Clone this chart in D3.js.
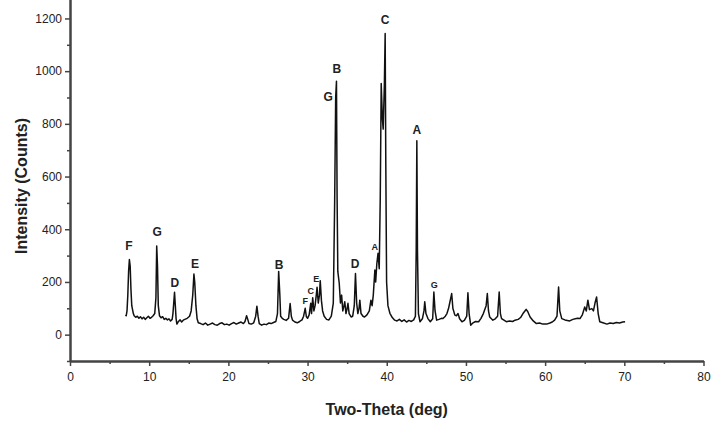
<!DOCTYPE html>
<html>
<head>
<meta charset="utf-8">
<title>XRD pattern</title>
<style>
  body { margin: 0; background: #fff; }
  svg { display: block; font-family: "Liberation Sans", Arial, sans-serif; }
  .axis path, .axis line { stroke: #444; }
  .axis text { fill: #222; font-size: 12px; }
</style>
</head>
<body>
<svg width="716" height="427"></svg>
<script src="https://d3js.org/d3.v7.min.js"></script>
<script>
// x-ray pattern: [two-theta, counts]
var pattern = [
  [7.0,75],[7.1,72],[7.2,90],[7.3,150],[7.4,240],[7.5,285],[7.6,260],[7.7,170],[7.8,110],[7.9,95],
  [8.0,80],[8.1,72],[8.3,66],[8.5,70],[8.7,62],[8.9,68],[9.1,60],[9.3,66],[9.5,58],[9.7,64],
  [9.9,70],[10.1,62],[10.3,66],[10.5,72],[10.7,80],[10.85,140],[10.95,336],[11.05,260],[11.15,110],[11.3,72],
  [11.5,64],[11.7,68],[11.9,58],[12.1,62],[12.3,56],[12.5,60],[12.7,52],[12.9,58],[13.0,80],[13.1,120],
  [13.2,161],[13.3,110],[13.4,60],[13.5,40],[13.7,50],[13.9,56],[14.1,48],[14.3,55],[14.5,58],[14.8,62],
  [15.1,70],[15.3,90],[15.5,150],[15.65,230],[15.75,200],[15.9,110],[16.05,60],[16.2,45],[16.5,42],[16.8,38],
  [17.1,44],[17.4,36],[17.7,40],[18.0,44],[18.3,38],[18.6,36],[18.9,42],[19.2,45],[19.5,38],[19.8,40],
  [20.1,36],[20.4,42],[20.7,46],[21.0,40],[21.3,44],[21.6,48],[21.9,42],[22.1,50],[22.3,72],[22.45,58],
  [22.6,42],[22.9,40],[23.2,45],[23.45,70],[23.6,108],[23.75,70],[23.9,42],[24.2,36],[24.5,40],[24.8,38],
  [25.1,44],[25.4,42],[25.7,46],[26.0,50],[26.2,80],[26.35,240],[26.5,150],[26.6,70],[26.8,62],[27.0,58],
  [27.3,54],[27.6,62],[27.8,118],[27.95,70],[28.1,55],[28.4,48],[28.7,45],[29.0,50],[29.3,56],[29.5,70],
  [29.7,100],[29.85,68],[30.0,62],[30.2,75],[30.4,119],[30.5,80],[30.65,140],[30.8,90],[30.95,110],[31.1,150],
  [31.2,180],[31.35,120],[31.5,150],[31.6,205],[31.75,130],[31.9,90],[32.1,70],[32.4,58],[32.7,56],[33.0,70],
  [33.25,120],[33.42,500],[33.55,900],[33.65,962],[33.73,520],[33.82,240],[34.0,195],[34.15,120],[34.3,150],[34.45,90],
  [34.6,110],[34.7,125],[34.85,80],[35.0,100],[35.1,119],[35.25,80],[35.5,67],[35.7,70],[35.9,110],[36.05,232],
  [36.2,120],[36.35,80],[36.5,100],[36.6,131],[36.75,80],[37.0,70],[37.2,67],[37.5,75],[37.8,90],[38.0,131],
  [38.15,110],[38.3,150],[38.5,245],[38.6,200],[38.75,270],[38.9,309],[39.05,250],[39.18,520],[39.3,953],[39.45,820],
  [39.55,780],[39.7,950],[39.8,1143],[39.88,650],[39.98,200],[40.15,110],[40.4,81],[40.7,65],[41.0,55],[41.3,52],
  [41.6,58],[41.9,50],[42.2,56],[42.5,48],[42.8,54],[43.1,50],[43.4,56],[43.62,70],[43.72,320],[43.8,736],
  [43.88,320],[44.0,80],[44.2,49],[44.5,60],[44.7,90],[44.8,125],[44.95,80],[45.2,61],[45.5,49],[45.8,60],
  [45.95,162],[46.1,90],[46.3,55],[46.6,58],[46.9,62],[47.1,61],[47.4,70],[47.6,80],[47.8,99],[47.95,120],
  [48.2,156],[48.35,100],[48.6,74],[48.8,72],[49.0,80],[49.2,60],[49.5,49],[49.8,54],[50.1,70],[50.25,159],
  [50.4,80],[50.6,36],[50.9,45],[51.2,50],[51.6,49],[51.9,62],[52.2,80],[52.55,110],[52.7,156],[52.85,90],
  [53.0,67],[53.4,55],[53.7,60],[54.0,70],[54.2,162],[54.35,80],[54.5,61],[54.8,55],[55.1,49],[55.5,52],
  [55.9,50],[56.2,55],[56.6,58],[56.9,65],[57.2,80],[57.45,90],[57.6,96],[57.8,88],[58.1,67],[58.5,52],
  [58.9,42],[59.3,44],[59.7,40],[60.2,40],[60.6,44],[60.9,48],[61.2,55],[61.5,70],[61.7,181],[61.85,90],
  [62.1,61],[62.5,56],[62.8,54],[63.1,52],[63.5,58],[63.8,60],[64.1,62],[64.4,61],[64.7,75],[65.0,105],
  [65.2,90],[65.4,131],[65.6,95],[65.9,99],[66.1,90],[66.3,120],[66.5,143],[66.7,80],[66.9,49],[67.3,45],
  [67.8,40],[68.2,44],[68.6,42],[69.0,46],[69.4,44],[69.8,48],[70.1,49]
];

// phase letters: [letter, two-theta, counts at label centre, small]
var peakLabels = [
  ["F", 7.45, 336, 0], ["G", 11.0, 389, 0], ["D", 13.25, 199, 0], ["E", 15.8, 271, 0],
  ["B", 26.4, 264, 0], ["F", 29.7, 127, 1], ["C", 30.4, 165, 1], ["E", 31.1, 213, 1],
  ["G", 32.6, 905, 0], ["B", 33.7, 1011, 0], ["D", 36.0, 271, 0], ["A", 38.5, 332, 1],
  ["C", 39.8, 1194, 0], ["A", 43.8, 776, 0], ["G", 46.0, 188, 1]
];

var xMajor = [0, 10, 20, 30, 40, 50, 60, 70, 80];
var xMinor = [5, 15, 25, 35, 45, 55, 65, 75];
var yMajor = [0, 200, 400, 600, 800, 1000, 1200];
var yMinor = [-100, 100, 300, 500, 700, 900, 1100];

var svg = d3.select("svg");

var x = d3.scaleLinear().domain([0, 80]).range([70, 703.5]);
var y = d3.scaleLinear().domain([-100, 1300]).range([361, -7.9]);

// axes
svg.append("g")
    .attr("class", "axis")
    .attr("transform", "translate(0," + y(-100) + ")")
    .call(d3.axisBottom(x).tickValues(xMinor).tickSize(3).tickFormat("").tickSizeOuter(0));

svg.append("g")
    .attr("class", "axis")
    .attr("transform", "translate(0," + y(-100) + ")")
    .call(d3.axisBottom(x).tickValues(xMajor).tickSize(5).tickSizeOuter(0).tickPadding(6));

svg.append("g")
    .attr("class", "axis")
    .attr("transform", "translate(" + x(0) + ",0)")
    .call(d3.axisLeft(y).tickValues(yMinor).tickSize(3).tickFormat("").tickSizeOuter(0));

svg.append("g")
    .attr("class", "axis")
    .attr("transform", "translate(" + x(0) + ",0)")
    .call(d3.axisLeft(y).tickValues(yMajor).tickSize(5).tickSizeOuter(0).tickPadding(3)
      .tickFormat(d3.format("d")));

svg.selectAll(".axis path").attr("stroke-width", 2);
svg.selectAll(".axis line").attr("stroke-width", 1.5);

// the pattern
svg.append("path")
    .datum(pattern)
    .attr("fill", "none")
    .attr("stroke", "#111")
    .attr("stroke-width", 1.5)
    .attr("stroke-linejoin", "round")
    .attr("d", d3.line()
      .x(function(d) { return x(d[0]); })
      .y(function(d) { return y(d[1]); }));

// peak letters
svg.append("g")
    .attr("text-anchor", "middle")
    .attr("font-weight", "bold")
    .attr("fill", "#222")
  .selectAll("text")
  .data(peakLabels)
  .enter().append("text")
    .attr("x", function(d) { return x(d[1]); })
    .attr("y", function(d) { return y(d[2]); })
    .attr("dy", "0.36em")
    .attr("font-size", function(d) { return d[3] ? 9 : 12; })
    .text(function(d) { return d[0]; });

// axis titles
svg.append("text")
    .attr("x", (x(0) + x(80)) / 2)
    .attr("y", 415)
    .attr("text-anchor", "middle")
    .attr("font-weight", "bold")
    .attr("font-size", 16)
    .attr("fill", "#222")
    .text("Two-Theta (deg)");

svg.append("text")
    .attr("transform", "translate(27," + 186 + ") rotate(-90)")
    .attr("text-anchor", "middle")
    .attr("font-weight", "bold")
    .attr("font-size", 16)
    .attr("fill", "#222")
    .text("Intensity (Counts)");
</script>
</body>
</html>
